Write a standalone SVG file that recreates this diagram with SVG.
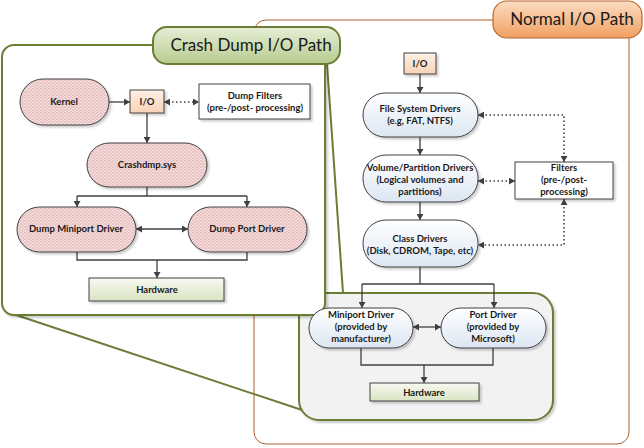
<svg xmlns="http://www.w3.org/2000/svg" width="644" height="448" viewBox="0 0 644 448">
<defs>
<style>
.t{font-family:Lato,"Liberation Sans",sans-serif;font-weight:bold;font-size:9.5px;fill:#1a1a1a;text-anchor:middle}
.title{font-family:Lato,"Liberation Sans",sans-serif;font-size:17px;fill:#1a1a1a;text-anchor:middle}
.c{fill:none;stroke:#404040;stroke-width:1.3}
.d{fill:none;stroke:#404040;stroke-width:1.6;stroke-dasharray:1.5 2.5}
.pink{fill:url(#pinkPat);stroke:#404040;stroke-width:1}
.blue{fill:url(#blueG);stroke:#404040;stroke-width:1}
.peach{fill:url(#peachG);stroke:#404040;stroke-width:1}
.hw{fill:url(#hwG);stroke:#404040;stroke-width:1}
.wbox{fill:#fff;stroke:#404040;stroke-width:1}
.sh{filter:url(#shadow)}
</style>
<filter id="shadow" x="-10%" y="-10%" width="130%" height="140%">
<feDropShadow dx="2" dy="2" stdDeviation="1" flood-color="#000" flood-opacity="0.2"/>
</filter>
<pattern id="pinkPat" width="4" height="3" patternUnits="userSpaceOnUse">
<rect width="4" height="3" fill="#eac3c3"/>
<rect x="0" y="0" width="2" height="1" fill="#f7e3e3"/>
<rect x="2" y="1.5" width="2" height="1" fill="#f7e3e3"/>
</pattern>
<linearGradient id="blueG" x1="0" y1="0" x2="0" y2="1"><stop offset="0" stop-color="#ffffff"/><stop offset="1" stop-color="#dce6f2"/></linearGradient>
<linearGradient id="peachG" x1="0" y1="0" x2="0" y2="1"><stop offset="0" stop-color="#fdf0e6"/><stop offset="1" stop-color="#f9d3b6"/></linearGradient>
<linearGradient id="hwG" x1="0" y1="0" x2="0" y2="1"><stop offset="0" stop-color="#f7f9f0"/><stop offset="1" stop-color="#d9e3c3"/></linearGradient>
<linearGradient id="orangeG" x1="0" y1="0" x2="0" y2="1"><stop offset="0" stop-color="#fcdcc2"/><stop offset="1" stop-color="#f0a060"/></linearGradient>
<linearGradient id="greenG" x1="0" y1="0" x2="0" y2="1"><stop offset="0" stop-color="#e6eed6"/><stop offset="1" stop-color="#b8cb8f"/></linearGradient>
<marker id="a" markerWidth="7" markerHeight="7" refX="6" refY="3.5" orient="auto-start-reverse" markerUnits="userSpaceOnUse">
<path d="M0,0 L6,3.5 L0,7 z" fill="#404040"/>
</marker>
</defs>

<!-- containers -->
<g id="normal-panel">
<rect x="254" y="20" width="375" height="424" rx="12" fill="#fff" stroke="#a8602c" stroke-width="1"/>
</g>
<g id="normal-title">
<rect x="493" y="1" width="149" height="37" rx="14" fill="url(#orangeG)" stroke="#b8672e" stroke-width="1.2"/>
<text class="title" x="572" y="25">Normal I/O Path</text>
</g>
<g id="zoom-box">
<rect x="299" y="293" width="254" height="127" rx="20" fill="#f2f2f2" stroke="#6b7d34" stroke-width="2" class="sh"/>
</g>
<g id="zoom-lines">
<line x1="10" y1="313" x2="302" y2="410" stroke="#6b7d34" stroke-width="2"/>
<line x1="327" y1="64" x2="343" y2="293" stroke="#6b7d34" stroke-width="2"/>
</g>
<g id="crash-panel">
<rect x="2" y="45" width="323" height="270" rx="12" fill="#fff" stroke="#6b7d34" stroke-width="2" class="sh"/>
</g>
<g id="crash-title">
<rect x="153" y="27" width="187" height="37" rx="14" fill="url(#greenG)" stroke="#6b7d34" stroke-width="2"/>
<text class="title" x="251" y="51">Crash Dump I/O Path</text>
</g>

<!-- connectors -->
<g id="connectors">
<path class="c" d="M420,74 V93" marker-end="url(#a)"/>
<path class="c" d="M420,137 V155" marker-end="url(#a)"/>
<path class="c" d="M420,202 V220" marker-end="url(#a)"/>
<path class="c" d="M420,267 V284 M362,284 H494"/>
<path class="c" d="M362,284 V308" marker-end="url(#a)"/>
<path class="c" d="M494,284 V308" marker-end="url(#a)"/>
<path class="c" d="M413,327 H441" marker-start="url(#a)" marker-end="url(#a)"/>
<path class="c" d="M361,348 V365 H493 V348"/>
<path class="c" d="M424,365 V383" marker-end="url(#a)"/>
<path class="d" d="M564,162 V115 H478" marker-start="url(#a)" marker-end="url(#a)"/>
<path class="d" d="M515,181 H478" marker-start="url(#a)" marker-end="url(#a)"/>
<path class="d" d="M564,199 V245 H478" marker-start="url(#a)" marker-end="url(#a)"/>

<path class="c" d="M109,102 H130" marker-end="url(#a)"/>
<path class="d" d="M164,102 H199" marker-start="url(#a)" marker-end="url(#a)"/>
<path class="c" d="M147,113 V143" marker-end="url(#a)"/>
<path class="c" d="M147,187 V196 M77,196 H247"/>
<path class="c" d="M77,196 V207" marker-end="url(#a)"/>
<path class="c" d="M247,196 V207" marker-end="url(#a)"/>
<path class="c" d="M136,229 H188" marker-start="url(#a)" marker-end="url(#a)"/>
<path class="c" d="M77,252 V260 H247 V252"/>
<path class="c" d="M157,260 V278" marker-end="url(#a)"/>
</g>

<!-- normal path nodes -->
<g id="n-io">
<rect class="peach sh" x="404" y="53" width="32" height="21"/>
<text class="t" x="420" y="67">I/O</text>
</g>
<g id="n-fsd">
<rect class="blue sh" x="363" y="93" width="115" height="44" rx="22"/>
<text class="t" x="420" y="112">File System Drivers</text>
<text class="t" x="420" y="124">(e.g, FAT, NTFS)</text>
</g>
<g id="n-vpd">
<rect class="blue sh" x="363" y="155" width="115" height="47" rx="23"/>
<text class="t" x="420" y="171">Volume/Partition Drivers</text>
<text class="t" x="420" y="183">(Logical volumes and</text>
<text class="t" x="420" y="195">partitions)</text>
</g>
<g id="n-class">
<rect class="blue sh" x="363" y="220" width="115" height="47" rx="23"/>
<text class="t" x="420" y="242">Class Drivers</text>
<text class="t" x="420" y="254">(Disk, CDROM, Tape, etc)</text>
</g>
<g id="n-filters">
<rect class="wbox sh" x="515" y="162" width="98" height="37"/>
<text class="t" x="564" y="171">Filters</text>
<text class="t" x="564" y="183">(pre-/post-</text>
<text class="t" x="564" y="195">processing)</text>
</g>
<g id="n-miniport">
<rect class="blue sh" x="309" y="308" width="104" height="40" rx="20"/>
<text class="t" x="361" y="318">Miniport Driver</text>
<text class="t" x="361" y="330">(provided by</text>
<text class="t" x="361" y="342">manufacturer)</text>
</g>
<g id="n-port">
<rect class="blue sh" x="441" y="308" width="105" height="40" rx="20"/>
<text class="t" x="493" y="318">Port Driver</text>
<text class="t" x="493" y="330">(provided by</text>
<text class="t" x="493" y="342">Microsoft)</text>
</g>
<g id="n-hw">
<rect class="hw sh" x="370" y="383" width="109" height="18"/>
<text class="t" x="424" y="395.5">Hardware</text>
</g>

<!-- crash dump nodes -->
<g id="c-kernel">
<rect class="pink sh" x="20" y="79" width="89" height="46" rx="23"/>
<text class="t" x="64" y="105">Kernel</text>
</g>
<g id="c-io">
<rect class="peach sh" x="130" y="90" width="34" height="23"/>
<text class="t" x="147" y="105">I/O</text>
</g>
<g id="c-filters">
<rect class="wbox sh" x="199" y="84" width="111" height="35"/>
<text class="t" x="255" y="99">Dump Filters</text>
<text class="t" x="255" y="111">(pre-/post- processing)</text>
</g>
<g id="c-crashdmp">
<rect class="pink sh" x="87" y="143" width="120" height="44" rx="22"/>
<text class="t" x="147" y="168">Crashdmp.sys</text>
</g>
<g id="c-miniport">
<rect class="pink sh" x="17" y="207" width="119" height="45" rx="22.5"/>
<text class="t" x="76" y="232">Dump Miniport Driver</text>
</g>
<g id="c-port">
<rect class="pink sh" x="188" y="207" width="119" height="45" rx="22.5"/>
<text class="t" x="247" y="232">Dump Port Driver</text>
</g>
<g id="c-hw">
<rect class="hw sh" x="89" y="278" width="135" height="23"/>
<text class="t" x="157" y="292.5">Hardware</text>
</g>
</svg>
